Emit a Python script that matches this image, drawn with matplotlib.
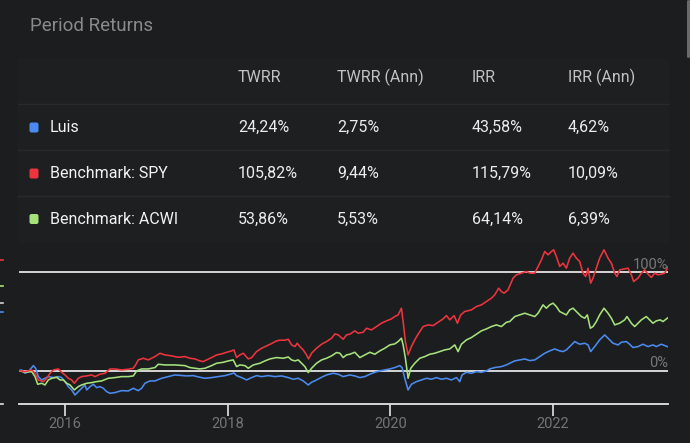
import matplotlib
matplotlib.use("Agg")
import matplotlib.pyplot as plt
from matplotlib.patches import FancyBboxPatch, Rectangle
from matplotlib.lines import Line2D
from matplotlib.transforms import IdentityTransform, blended_transform_factory

plt.rcParams['font.family'] = ['Roboto', 'DejaVu Sans']

# ---- table data ----
columns = ["TWRR", "TWRR (Ann)", "IRR", "IRR (Ann)"]
names = ["Luis", "Benchmark: SPY", "Benchmark: ACWI"]
twrr = ["24,24%", "105,82%", "53,86%"]
twrr_ann = ["2,75%", "9,44%", "5,53%"]
irr = ["43,58%", "115,79%", "64,14%"]
irr_ann = ["4,62%", "10,09%", "6,39%"]

# ---- cumulative return series (decimal year, %) ----
luis_t = [2015.430, 2015.463, 2015.504, 2015.545, 2015.586, 2015.607, 2015.635, 2015.668, 2015.709, 2015.750,
          2015.791, 2015.853, 2015.914, 2015.955, 2015.996, 2016.037, 2016.078, 2016.119, 2016.160, 2016.201,
          2016.242, 2016.263, 2016.304, 2016.345, 2016.386, 2016.427, 2016.468, 2016.509, 2016.550, 2016.611,
          2016.693, 2016.775, 2016.837, 2016.898, 2016.939, 2016.980, 2017.042, 2017.103, 2017.185, 2017.267,
          2017.349,
          2017.493, 2017.575, 2017.657, 2017.719, 2017.800, 2017.882, 2017.964, 2018.026, 2018.075, 2018.108,
          2018.170, 2018.231, 2018.293, 2018.354, 2018.416, 2018.498, 2018.580, 2018.662, 2018.744, 2018.805,
          2018.867, 2018.928, 2018.990, 2019.031, 2019.092, 2019.154, 2019.215, 2019.297, 2019.359, 2019.420,
          2019.502, 2019.563, 2019.625, 2019.686, 2019.748, 2019.809, 2019.871, 2019.932, 2019.994, 2020.055,
          2020.117, 2020.145, 2020.178, 2020.219, 2020.260, 2020.322, 2020.383, 2020.445, 2020.506, 2020.568,
          2020.629, 2020.691, 2020.752, 2020.814, 2020.855, 2020.883, 2020.937, 2020.998, 2021.060, 2021.121,
          2021.183, 2021.224, 2021.285, 2021.367, 2021.429,
          2021.470, 2021.532, 2021.593, 2021.655, 2021.716, 2021.778, 2021.839, 2021.901, 2021.962, 2022.024,
          2022.085, 2022.126, 2022.167, 2022.208, 2022.270, 2022.331, 2022.393, 2022.434, 2022.466, 2022.516,
          2022.577, 2022.639, 2022.700, 2022.741, 2022.803, 2022.844, 2022.905, 2022.946, 2022.987, 2023.049,
          2023.110, 2023.172, 2023.233, 2023.274, 2023.336, 2023.418]
luis_v = [0.0, 0.7, -2.7, -1.0, 3.1, 5.1, 2.4, -6.1, -9.5, -7.8,
          -6.1, -7.1, -6.1, -7.1, -11.2, -16.3, -19.7, -24.8, -21.4, -18.0,
          -14.6, -19.7, -16.3, -13.9, -17.3, -16.3, -18.0, -21.4, -23.1, -22.4,
          -20.4, -20.7, -18.0, -20.4, -18.0, -12.9, -10.5, -10.5, -7.8, -6.1,
          -4.4,
          -5.4, -5.1, -6.8, -7.8, -7.1, -6.1, -5.1, -3.7, -2.4, -5.1,
          -7.1, -9.5, -7.1, -5.1, -6.1, -5.1, -6.1, -5.4, -7.1, -8.8,
          -7.8, -10.5, -14.6, -11.9, -9.5, -6.8, -4.4, -2.7, -3.7, -6.1,
          -4.4, -5.4, -7.1, -6.1, -3.7, -1.7, -0.3, 0.7, 1.7, 3.1,
          5.1, 3.1, -7.8, -19.7, -13.9, -11.2, -9.5, -7.8, -8.8, -7.1,
          -8.8, -7.8, -9.5, -7.1, -11.2, -4.4, -1.7, -2.7, -1.0, -1.7,
          -0.3, 1.7, 3.1, 4.1, 5.8,
          7.5, 9.9, 10.9, 11.9, 10.2, 10.9, 14.3, 17.7, 20.1, 22.1,
          20.1, 19.4, 21.1, 24.5, 29.6, 26.9, 27.9, 26.2, 19.4, 24.5,
          31.3, 36.4, 31.3, 27.9, 26.2, 28.9, 29.6, 26.9, 23.5, 24.5,
          26.9, 24.5, 26.2, 24.5, 26.9, 24.2]

spy_t = [2015.430, 2015.504, 2015.586, 2015.627, 2015.668, 2015.730, 2015.771, 2015.812, 2015.853, 2015.914,
         2015.955, 2015.996, 2016.037, 2016.078, 2016.111, 2016.160, 2016.201, 2016.263, 2016.324, 2016.365,
         2016.427, 2016.488, 2016.550, 2016.611, 2016.693, 2016.775, 2016.837, 2016.865, 2016.898, 2016.960,
         2017.021, 2017.103, 2017.165, 2017.226, 2017.308, 2017.390,
         2017.472, 2017.534, 2017.596, 2017.657, 2017.698, 2017.739, 2017.800, 2017.862, 2017.923, 2017.985,
         2018.047, 2018.075, 2018.108, 2018.149, 2018.190, 2018.252, 2018.293, 2018.354, 2018.416, 2018.477,
         2018.539, 2018.600, 2018.641, 2018.703, 2018.744, 2018.785, 2018.826, 2018.854, 2018.887, 2018.928,
         2018.969, 2018.994, 2019.031, 2019.092, 2019.154, 2019.215, 2019.277, 2019.318, 2019.359, 2019.420,
         2019.461,
         2019.502, 2019.563, 2019.604, 2019.666, 2019.707, 2019.768, 2019.830, 2019.891, 2019.953, 2020.014,
         2020.055, 2020.096, 2020.137, 2020.158, 2020.186, 2020.219, 2020.260, 2020.301, 2020.342, 2020.404,
         2020.465, 2020.527, 2020.588, 2020.650, 2020.691, 2020.732, 2020.785, 2020.826, 2020.867, 2020.916,
         2020.998, 2021.060, 2021.121, 2021.183, 2021.244, 2021.285, 2021.334, 2021.367, 2021.400, 2021.449,
         2021.511, 2021.552, 2021.614, 2021.675, 2021.724, 2021.778, 2021.819, 2021.860, 2021.901, 2021.942,
         2021.983, 2022.011, 2022.044, 2022.085, 2022.126, 2022.167, 2022.208, 2022.249, 2022.290, 2022.331,
         2022.372, 2022.405, 2022.434, 2022.466, 2022.495, 2022.536, 2022.577, 2022.630, 2022.680, 2022.721,
         2022.762, 2022.790, 2022.823, 2022.885, 2022.926, 2022.967, 2022.995, 2023.049, 2023.090, 2023.131,
         2023.172, 2023.213, 2023.254, 2023.295, 2023.336, 2023.377, 2023.418]
spy_v = [0.0, -1.0, 0.7, -2.7, -9.5, -11.2, -7.8, -2.7, 0.7, 1.7,
         -1.7, -4.4, -7.8, -9.5, -12.9, -7.8, -6.1, -5.4, -4.4, -6.1,
         -3.7, -2.7, 1.7, 1.7, 0.7, 1.4, 2.4, 5.8, 10.9, 12.6,
         10.9, 14.3, 17.7, 16.0, 15.0, 13.6,
         14.3, 12.6, 11.9, 9.9, 9.2, 10.9, 13.3, 16.0, 17.0, 18.7,
         20.1, 21.1, 13.3, 16.0, 17.7, 11.9, 13.3, 19.4, 22.8, 25.2,
         27.6, 30.3, 31.0, 31.0, 32.0, 26.2, 24.5, 27.9, 24.5, 21.1,
         16.0, 11.9, 17.7, 22.8, 26.9, 29.6, 33.0, 37.4, 36.4, 32.0,
         36.4,
         37.1, 40.5, 38.1, 39.1, 43.2, 41.5, 44.9, 48.3, 50.7, 52.7,
         55.1, 56.8, 63.6, 50.0, 29.6, 16.0, 24.5, 31.3, 37.1, 44.9,
         46.6, 45.9, 49.3, 52.7, 56.1, 51.7, 56.1, 48.3, 56.8, 60.2,
         61.9, 65.3, 67.0, 70.4, 73.8, 77.2, 84.0, 80.6, 78.9, 82.3,
         94.2, 97.6, 99.3, 101.0, 99.3, 99.3, 106.1, 112.9, 121.4, 118.0,
         121.4, 123.1, 116.3, 106.1, 109.5, 104.4, 114.6, 119.7, 114.6, 111.2,
         99.3, 95.9, 104.4, 89.1, 94.2, 104.4, 114.6, 123.1, 114.6, 109.5,
         99.3, 95.9, 102.7, 103.7, 104.4, 97.6, 90.8, 94.2, 99.3, 102.7,
         98.3, 94.9, 99.3, 97.6, 98.3, 99.3, 105.8]

acwi_t = [2015.430, 2015.504, 2015.586, 2015.627, 2015.660, 2015.709, 2015.750, 2015.791, 2015.832, 2015.894,
          2015.935, 2015.976, 2016.017, 2016.058, 2016.111, 2016.160, 2016.201, 2016.263, 2016.324, 2016.386,
          2016.447, 2016.529, 2016.611, 2016.693, 2016.775, 2016.837, 2016.878, 2016.939, 2017.021, 2017.103,
          2017.144, 2017.226, 2017.349,
          2017.472, 2017.534, 2017.596, 2017.657, 2017.719, 2017.800, 2017.862, 2017.944, 2018.006, 2018.067,
          2018.108, 2018.149, 2018.211, 2018.252, 2018.313, 2018.395, 2018.457, 2018.518, 2018.600, 2018.682,
          2018.744, 2018.785, 2018.826, 2018.867, 2018.908, 2018.949, 2018.990, 2019.031, 2019.092, 2019.154,
          2019.215, 2019.277, 2019.338, 2019.379, 2019.420, 2019.461,
          2019.502, 2019.563, 2019.625, 2019.686, 2019.748, 2019.809, 2019.871, 2019.932, 2019.994, 2020.055,
          2020.096, 2020.137, 2020.158, 2020.186, 2020.219, 2020.252, 2020.301, 2020.363, 2020.424, 2020.486,
          2020.547, 2020.609, 2020.670, 2020.732, 2020.793, 2020.834, 2020.875, 2020.937, 2020.998, 2021.060,
          2021.121, 2021.183, 2021.244, 2021.306, 2021.367, 2021.429,
          2021.470, 2021.532, 2021.593, 2021.655, 2021.716, 2021.778, 2021.819, 2021.880, 2021.921, 2021.962,
          2022.003, 2022.044, 2022.085, 2022.126, 2022.167, 2022.208, 2022.249, 2022.290, 2022.352, 2022.393,
          2022.425, 2022.462, 2022.495, 2022.536, 2022.577, 2022.630, 2022.680, 2022.721, 2022.762, 2022.823,
          2022.885, 2022.913, 2022.967, 2023.008, 2023.049, 2023.090, 2023.151, 2023.192, 2023.233, 2023.274,
          2023.323, 2023.356, 2023.418]
acwi_v = [0.0, -1.7, -1.0, -6.1, -13.9, -12.9, -14.6, -9.5, -7.8, -6.8,
          -9.5, -9.5, -12.9, -14.6, -19.7, -16.3, -14.6, -12.9, -12.2, -11.2,
          -10.5, -7.8, -7.1, -6.1, -6.1, -5.4, -0.3, 1.7, 1.7, 3.1,
          6.5, 5.8, 5.8,
          5.1, 3.1, 2.4, 1.7, 2.4, 5.1, 7.5, 8.5, 9.9, 10.9,
          4.1, 5.8, 5.1, 2.4, 5.8, 7.5, 9.9, 11.9, 13.3, 12.6,
          13.9, 10.9, 9.9, 10.9, 7.5, 4.1, -2.0, 2.4, 7.5, 10.9,
          12.6, 15.0, 18.4, 17.7, 13.3, 16.0,
          16.7, 18.7, 13.3, 16.0, 18.7, 16.7, 20.1, 22.8, 26.2, 27.2,
          29.6, 33.0, 26.2, 12.6, -7.8, 2.4, 7.5, 12.6, 14.3, 16.7,
          17.7, 19.4, 21.1, 22.1, 26.2, 19.4, 26.9, 31.3, 33.7, 37.1,
          40.5, 42.5, 44.9, 46.6, 44.9, 49.3,
          50.0, 55.1, 56.8, 58.5, 56.8, 55.1, 58.5, 67.0, 63.6, 67.0,
          68.7, 65.3, 60.2, 58.5, 56.8, 61.9, 63.6, 60.2, 55.1, 53.4,
          56.8, 43.2, 44.9, 50.0, 56.8, 63.6, 58.5, 53.4, 46.6, 48.3,
          51.7, 55.1, 48.3, 44.9, 48.3, 51.7, 55.1, 51.7, 48.3, 50.7,
          51.7, 50.0, 53.9]

year_ticks = [2016, 2018, 2020, 2022]
ref_levels = [0, 100]

# ---- style ----
W, H = 690, 443
BG = "#1c1d1e"
PANEL = "#1e1f20"
SEP = "#292a2b"
BLUE, RED, GREEN = "#4b8bf0", "#ee343e", "#a6e27c"
series_colors = [BLUE, RED, GREEN]


def fx(x):
    return x / W


def fy(y):
    return 1 - y / H


fig = plt.figure(figsize=(W / 100, H / 100), dpi=100, facecolor=BG)

# table panel + row separators
fig.patches.append(Rectangle((fx(18), fy(243)), fx(669) - fx(18), fy(58) - fy(243),
                             transform=fig.transFigure, facecolor=PANEL, edgecolor="none", zorder=0))
for y in [104, 150, 196]:
    fig.add_artist(Line2D([fx(18), fx(669)], [fy(y), fy(y)], color=SEP, lw=1))

# scrollbar stub on the right
fig.patches.append(FancyBboxPatch((687, H - 58), 3, 58, boxstyle="round,pad=0,rounding_size=1.5",
                                  transform=IdentityTransform(), facecolor="#6a6a6a", edgecolor="none"))

fig.text(fx(30), fy(26), "Period Returns", color="#8a8a8a", fontsize=13.5, va="center", ha="left")

col_x = [238, 337, 472, 568]
for cx, label in zip(col_x, columns):
    fig.text(fx(cx), fy(77), label, color="#c2c2c2", fontsize=11.5, va="center", ha="left")

row_y = [127.5, 173.5, 219]
for i, name in enumerate(names):
    ry = row_y[i]
    fig.patches.append(FancyBboxPatch((29.5, H - ry - 5), 9, 10, boxstyle="round,pad=0,rounding_size=2",
                                      transform=IdentityTransform(), facecolor=series_colors[i], edgecolor="none"))
    fig.text(fx(50), fy(ry), name, color="#f2f2f2", fontsize=11.5, va="center", ha="left")
    for cx, val in zip(col_x, [twrr[i], twrr_ann[i], irr[i], irr_ann[i]]):
        fig.text(fx(cx), fy(ry), val, color="#ececec", fontsize=11.5, va="center", ha="left")

# clipped marks at the far left edge of the screenshot
for y, c in [(260, RED), (286, GREEN), (303, "#d0d0d0"), (312, BLUE), (403.5, "#e0e0e0")]:
    fig.add_artist(Line2D([0, fx(3)], [fy(y), fy(y)], color=c, lw=1.2))

# ---- chart ----
ax = fig.add_axes([fx(19), fy(403.5), fx(668) - fx(19), fy(245) - fy(403.5)])
ax.set_facecolor("none")
ax.set_xlim(luis_t[0], luis_t[-1])
ax.set_ylim(-33.5, 128)

for lvl in ref_levels:
    ax.axhline(lvl, color="#e4e4e4", lw=1.3, zorder=1)

ax.plot(luis_t, luis_v, color=BLUE, lw=1.15, zorder=3)
ax.plot(acwi_t, acwi_v, color=GREEN, lw=1.15, zorder=3)
ax.plot(spy_t, spy_v, color=RED, lw=1.15, zorder=3)

tr = blended_transform_factory(ax.transAxes, ax.transData)
ax.text(1.0, 107.8, "100%", transform=tr, ha="right", va="center", color="#777777", fontsize=10.5, zorder=4)
ax.text(1.0, 8.2, "0%", transform=tr, ha="right", va="center", color="#777777", fontsize=10.5, zorder=4)

for side in ["top", "left", "right"]:
    ax.spines[side].set_visible(False)
ax.spines["bottom"].set_color("#e4e4e4")
ax.spines["bottom"].set_linewidth(1.3)
ax.set_yticks([])
ax.set_xticks(year_ticks)
ax.set_xticklabels([str(y) for y in year_ticks])
ax.tick_params(axis="x", direction="out", length=8.5, width=1.2, color="#e4e4e4",
               labelcolor="#747474", labelsize=10.5, pad=1.5)

fig.savefig("out.png", dpi=100, facecolor=BG)
